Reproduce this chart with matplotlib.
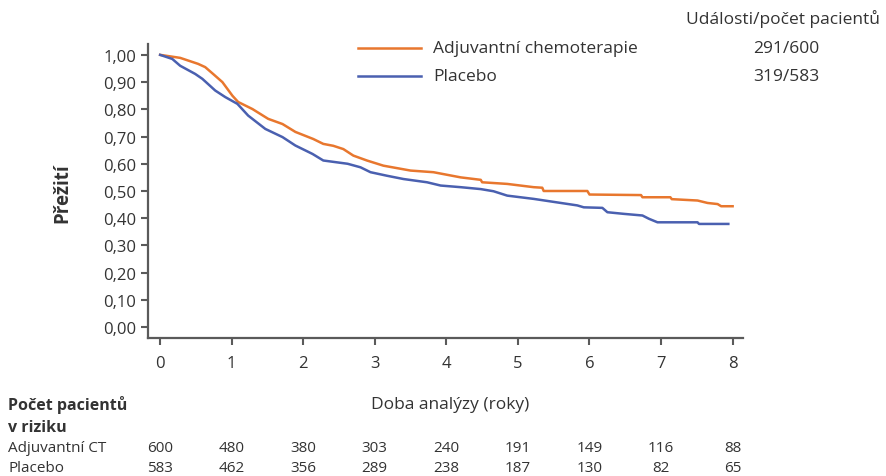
import matplotlib.pyplot as plt
from matplotlib.lines import Line2D
import matplotlib.transforms as mtransforms

plt.rcParams['font.family'] = ['Open Sans', 'DejaVu Sans']

# Kaplan-Meier odhady (čas v letech, přežití)
chemo_t = [0, 0.28, 0.53, 0.63, 0.74, 0.87, 1.01, 1.09, 1.29, 1.51, 1.71, 1.89, 2.14,
           2.28, 2.42, 2.56, 2.70, 2.89, 3.12, 3.50, 3.82, 4.20, 4.48, 4.50, 4.85,
           5.22, 5.34, 5.36, 5.97, 6.00, 6.72, 6.74, 7.13, 7.15, 7.51, 7.65, 7.79,
           7.84, 8.0]
chemo_s = [1.0, 0.989, 0.967, 0.955, 0.93, 0.90, 0.85, 0.827, 0.801, 0.765, 0.746, 0.717,
           0.691, 0.673, 0.666, 0.654, 0.63, 0.612, 0.593, 0.575, 0.569, 0.55, 0.541,
           0.532, 0.526, 0.514, 0.512, 0.50, 0.50, 0.487, 0.485, 0.477, 0.477, 0.47,
           0.465, 0.456, 0.452, 0.444, 0.444]
placebo_t = [0, 0.17, 0.28, 0.49, 0.59, 0.77, 0.91, 1.08, 1.23, 1.47, 1.71, 1.89, 2.13,
             2.28, 2.62, 2.80, 2.94, 3.17, 3.40, 3.73, 3.92, 4.20, 4.48, 4.66, 4.85,
             5.22, 5.55, 5.83, 5.92, 6.18, 6.25, 6.48, 6.74, 6.83, 6.95, 7.51, 7.53,
             7.94]
placebo_s = [1.0, 0.985, 0.96, 0.93, 0.912, 0.869, 0.845, 0.82, 0.777, 0.728, 0.698,
             0.667, 0.636, 0.612, 0.60, 0.587, 0.569, 0.556, 0.544, 0.532, 0.52, 0.514,
             0.507, 0.499, 0.483, 0.471, 0.458, 0.447, 0.44, 0.438, 0.422, 0.416, 0.41,
             0.398, 0.385, 0.385, 0.379, 0.379]

years = [0, 1, 2, 3, 4, 5, 6, 7, 8]
y_ticks = [0.0, 0.1, 0.2, 0.3, 0.4, 0.5, 0.6, 0.7, 0.8, 0.9, 1.0]
risk_chemo = [600, 480, 380, 303, 240, 191, 149, 116, 88]
risk_placebo = [583, 462, 356, 289, 238, 187, 130, 82, 65]
groups = ['Adjuvantní chemoterapie', 'Placebo']
events = ['291/600', '319/583']

orange = '#E8772E'
blue = '#4A60B0'
grey = '#5a5a5a'
txt = '#333333'
W, H = 886, 477

fig = plt.figure(figsize=(8.86, 4.77), dpi=100)
ax = fig.add_axes([0.167, 0.2893, 0.672, 0.6164])

ax.plot(chemo_t, chemo_s, color=orange, lw=1.8)
ax.plot(placebo_t, placebo_s, color=blue, lw=1.8)

ax.set_xlim(-0.17, 8.15)
ax.set_ylim(-0.04, 1.04)
ax.set_xticks(years)
ax.set_yticks(y_ticks)
ax.set_yticklabels([('%.2f' % v).replace('.', ',') for v in y_ticks])
ax.tick_params(colors=grey, labelcolor=txt, labelsize=12, width=1.5, length=5)
ax.tick_params(axis='x', pad=7)
for s in ['top', 'right']:
    ax.spines[s].set_visible(False)
for s in ['left', 'bottom']:
    ax.spines[s].set_color(grey)
    ax.spines[s].set_linewidth(1.6)

fig.text(62 / W, 1 - 193 / H, 'Přežití', rotation=90, fontsize=13.5,
         fontweight='bold', color=txt, ha='center', va='center')
fig.text(450 / W, 1 - 405 / H, 'Doba analýzy (roky)', fontsize=12.5,
         color=txt, ha='center', va='center')

# legenda, kreslená ručně
for i, (g, c, ev) in enumerate(zip(groups, [orange, blue], events)):
    yy = 1 - (49 + 28 * i) / H
    fig.add_artist(Line2D([358 / W, 421 / W], [yy, yy], color=c, lw=1.8))
    fig.text(433 / W, yy, g, fontsize=12.5, color=txt, ha='left', va='center')
    fig.text(786 / W, yy, ev, fontsize=12.5, color=txt, ha='center', va='center')
fig.text(880 / W, 1 - 19 / H, 'Události/počet pacientů', fontsize=12.5,
         color=txt, ha='right', va='center')

# počet pacientů v riziku
fig.text(8 / W, 1 - 405 / H, 'Počet pacientů', fontsize=11.5, fontweight='bold',
         color=txt, va='center')
fig.text(8 / W, 1 - 428 / H, 'v riziku', fontsize=11.5, fontweight='bold',
         color=txt, va='center')
trans = mtransforms.blended_transform_factory(ax.transData, fig.transFigure)
for label, row, ypx in [('Adjuvantní CT', risk_chemo, 448), ('Placebo', risk_placebo, 469)]:
    fig.text(8 / W, 1 - ypx / H, label, fontsize=11, color=txt, va='center')
    for x, n in zip(years, row):
        ax.text(x, 1 - ypx / H, str(n), transform=trans, fontsize=11, color=txt,
                ha='center', va='center')

fig.savefig('out.png', dpi=100)
